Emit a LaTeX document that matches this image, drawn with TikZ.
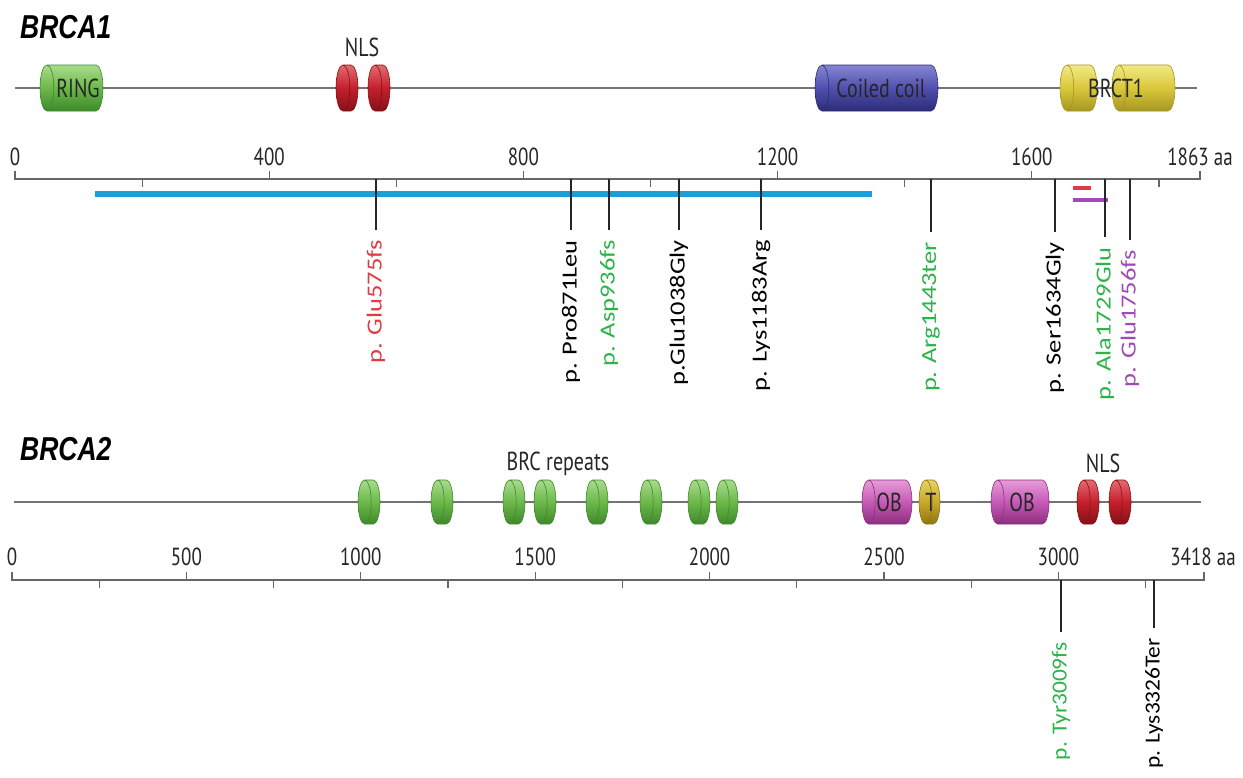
\documentclass[tikz,border=0pt]{standalone}
\usepackage{fontspec}
\setmainfont{PT Sans}
\newfontfamily\mutfont{Carlito}
\newfontfamily\titlefont{Liberation Sans}
\usetikzlibrary{shapes.geometric}
\definecolor{ringgreen}{HTML}{6CB84A}
\definecolor{ringgreenL}{HTML}{A9DC8C}
\definecolor{ringgreenD}{HTML}{3E8A2C}
\definecolor{nlsred}{HTML}{C4202C}
\definecolor{nlsredL}{HTML}{E56A70}
\definecolor{nlsredD}{HTML}{861018}
\definecolor{coilblue}{HTML}{5050AE}
\definecolor{coilblueL}{HTML}{8585D2}
\definecolor{coilblueD}{HTML}{2C2C78}
\definecolor{brctyellow}{HTML}{D9C83C}
\definecolor{brctyellowL}{HTML}{F2E984}
\definecolor{brctyellowD}{HTML}{A69621}
\definecolor{obpink}{HTML}{C65AB6}
\definecolor{obpinkL}{HTML}{E69CD9}
\definecolor{obpinkD}{HTML}{8C2F7E}
\definecolor{tolive}{HTML}{C9A92C}
\definecolor{toliveL}{HTML}{E8D264}
\definecolor{toliveD}{HTML}{8E7610}
\definecolor{exonblue}{HTML}{1C9FD6}
\definecolor{mutred}{HTML}{E23A45}
\definecolor{mutgreen}{HTML}{2DB34A}
\definecolor{mutpurple}{HTML}{A04AB8}
\begin{document}
\begin{tikzpicture}[x=1pt,y=-1pt,
  backbone/.style={draw=black!55, line width=1.6pt},
  dom/.style n args={3}{cylinder, shape border rotate=180, aspect=0.3,
    anchor=shape center, inner xsep=0pt, inner ysep=23pt, draw=#3, line width=0.6pt,
    top color=#2, bottom color=#3, middle color=#1},
  domlbl/.style={font=\fontsize{20}{20}\selectfont, text=black!85, yscale=1.3, inner sep=0pt},
  gene/.style={font=\titlefont\bfseries\itshape\fontsize{26.5}{26.5}\selectfont,
    yscale=1.25, anchor=west, inner sep=0pt},
  scaleline/.style={draw=black!60, line width=1.2pt},
  ticklbl/.style={font=\fontsize{19}{19}\selectfont, text=black!85, yscale=1.3, inner sep=0pt},
  mut/.style={font=\mutfont\fontsize{21.5}{21.5}\selectfont, rotate=90, xscale=#1,
    anchor=east, inner sep=0pt},
  mut/.default=1.23,
  mutline/.style={draw=black!85, line width=1.3pt}
]
\useasboundingbox[fill=white] (0,0) rectangle (1243,777);

% BRCA1 protein
\node[gene] (brcaA) at (20,27) {BRCA1};
\coordinate (bAstart) at (15,88);
\coordinate (bAend) at (1197,88);
\draw[backbone] (bAstart) -- (bAend);
\node[dom={ringgreen}{ringgreenL}{ringgreenD}, minimum height=63pt] (ring) at (71.5,88) {};
\node[domlbl] (ringlbl) at (78,88) {RING};
\node[dom={nlsred}{nlsredL}{nlsredD}, minimum height=22pt] (nlsA) at (347,88) {};
\node[dom={nlsred}{nlsredL}{nlsredD}, minimum height=22pt] (nlsB) at (379,88) {};
\node[domlbl] (nlsAlbl) at (362,47) {NLS};
\node[dom={coilblue}{coilblueL}{coilblueD}, minimum height=123pt] (coil) at (876.5,88) {};
\node[domlbl] (coillbl) at (881,88) {Coiled coil};
\node[dom={brctyellow}{brctyellowL}{brctyellowD}, minimum height=37pt] (brctA) at (1078.5,88) {};
\node[dom={brctyellow}{brctyellowL}{brctyellowD}, minimum height=63pt] (brctB) at (1143.5,88) {};
\node[domlbl] (brctlbl) at (1116,88) {BRCT1};

% BRCA1 scale
\draw[scaleline] (15,171) -- (15,179) -- (1200,179) -- (1200,171);
\foreach \aa in {400,800,1200,1600}
  \draw[scaleline] ({15+0.6355*\aa},179) -- ++(0,-8);
\foreach \aa in {200,600,1000,1400,1800}
  \draw[scaleline] ({15+0.6355*\aa},179) -- ++(0,8);
\foreach \aa in {0,400,800,1200,1600}
  \node[ticklbl] at ({15+0.6355*\aa},157) {\aa};
\node[ticklbl] (endA) at (1200,157) {1863 aa};

% deletions
\draw[exonblue, line width=5.5pt] (95,194) -- (872,194);
\draw[mutred, line width=3.5pt] (1073,188) -- (1091,188);
\draw[mutpurple, line width=4pt] (1073,200) -- (1108,200);

% BRCA1 variants
\foreach \i/\x/\t/\c/\lbl in {
  1/376/240/mutred/p. Glu575fs,
  2/571/240/black/p. Pro871Leu,
  3/609/240/mutgreen/p. Asp936fs,
  4/679/240/black/p.Glu1038Gly,
  5/761/240/black/p. Lys1183Arg,
  6/931/242/mutgreen/p. Arg1443ter,
  7/1055/242/black/p. Ser1634Gly,
  8/1105/247/mutgreen/p. Ala1729Glu,
  9/1130/250/mutpurple/p. Glu1756fs}{
  \coordinate (axA\i) at (\x,179);
  \node[mut, text=\c] (mutA\i) at (\x,\t) {\lbl};
  \draw[mutline] (axA\i) -- ([yshift=10pt]mutA\i.east);
}

% BRCA2 protein
\node[gene] (brcaB) at (20,449) {BRCA2};
\coordinate (bBstart) at (14,502);
\coordinate (bBend) at (1201,502);
\draw[backbone] (bBstart) -- (bBend);
\foreach \x [count=\n] in {369,442,514,545,597,651,699,727}
  \node[dom={ringgreen}{ringgreenL}{ringgreenD}, minimum height=22pt, inner ysep=22pt] (brc\n) at (\x,502) {};
\node[domlbl] (brclbl) at (558,464) {BRC repeats};
\node[dom={obpink}{obpinkL}{obpinkD}, minimum height=50pt, inner ysep=22pt] (obA) at (887,502) {};
\node[domlbl] (obAlbl) at (889,502) {OB};
\node[dom={tolive}{toliveL}{toliveD}, minimum height=21pt, inner ysep=22pt] (tdom) at (929.5,502) {};
\node[domlbl] (tlbl) at (931,502) {T};
\node[dom={obpink}{obpinkL}{obpinkD}, minimum height=58pt, inner ysep=22pt] (obB) at (1020,502) {};
\node[domlbl] (obBlbl) at (1022,502) {OB};
\node[dom={nlsred}{nlsredL}{nlsredD}, minimum height=22pt, inner ysep=22pt] (nlsC) at (1088,502) {};
\node[dom={nlsred}{nlsredL}{nlsredD}, minimum height=22pt, inner ysep=22pt] (nlsD) at (1120,502) {};
\node[domlbl] (nlsBlbl) at (1103,463) {NLS};

% BRCA2 scale
\draw[scaleline] (12,572) -- (12,580) -- (1204,580) -- (1204,572);
\foreach \aa in {500,1000,...,3000}
  \draw[scaleline] ({12+0.3488*\aa},580) -- ++(0,-8);
\foreach \aa in {250,750,...,3250}
  \draw[scaleline] ({12+0.3488*\aa},580) -- ++(0,8);
\foreach \aa in {0,500,...,3000}
  \node[ticklbl] at ({12+0.3488*\aa},557) {\aa};
\node[ticklbl] (endB) at (1203,557) {3418 aa};

% BRCA2 variants
\foreach \i/\x/\t/\c/\lbl in {
  1/1061/642/mutgreen/p. Tyr3009fs,
  2/1154/638/black/p. Lys3326Ter}{
  \coordinate (axB\i) at (\x,580);
  \node[mut=1.09, text=\c] (mutB\i) at (\x,\t) {\lbl};
  \draw[mutline] (axB\i) -- ([yshift=10pt]mutB\i.east);
}
\end{tikzpicture}
\end{document}
